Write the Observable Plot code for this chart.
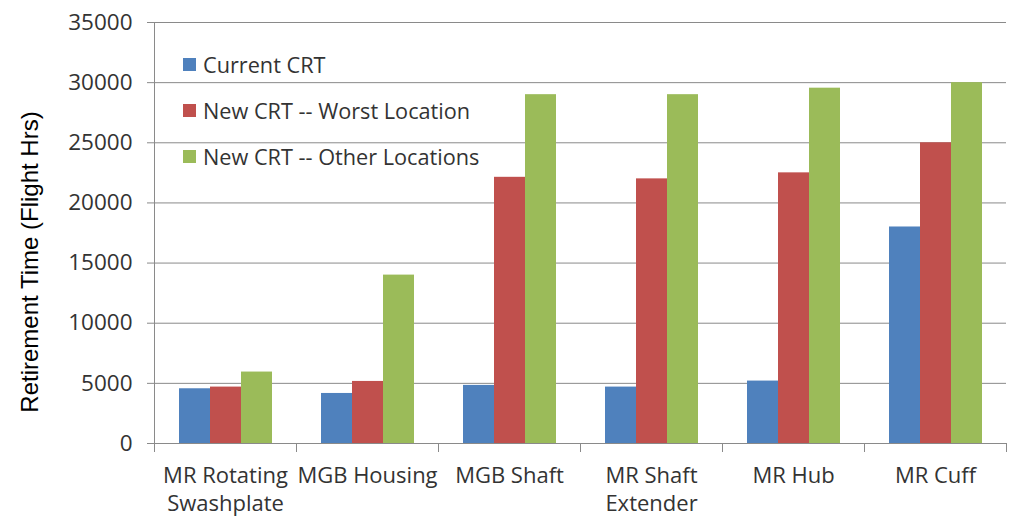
<!DOCTYPE html>
<html><head><meta charset="utf-8">
<script src="https://cdn.jsdelivr.net/npm/d3@7"></script>
<script src="https://cdn.jsdelivr.net/npm/@observablehq/plot@0.6"></script>
<style>
body{margin:0;background:#fff}
#wrap{position:relative;width:1011px;height:516px;overflow:hidden}
#legend{position:absolute;left:183px;top:41px;font-family:"Open Sans";font-size:21.7px;color:#333}
.item{display:flex;align-items:center;height:46px;white-space:nowrap}
.sw{width:13px;height:13px;margin-right:7px}
#ytitle{position:absolute;left:30px;top:262px;transform:translate(-50%,-50%) rotate(-90deg);white-space:nowrap;font-family:"Liberation Sans";font-size:24px;color:#000}
</style></head><body><div id="wrap"></div>
<script>
const categories = ["MR Rotating\nSwashplate","MGB Housing","MGB Shaft","MR Shaft\nExtender","MR Hub","MR Cuff"];
const seriesNames = ["Current CRT","New CRT -- Worst Location","New CRT -- Other Locations"];
const currentCRT = [4550,4160,4830,4690,5190,18000];
const newWorst = [4690,5160,22130,22000,22500,25000];
const newOther = [5940,14000,29000,29000,29540,30000];
const seriesColors = ["#4F81BD","#C0504D","#9BBB59"];
const yTicks = [0,5000,10000,15000,20000,25000,30000,35000];
const yTitle = "Retirement Time (Flight Hrs)";

const seriesValues = [currentCRT, newWorst, newOther];
const rows = [];
categories.forEach((c, i) => seriesNames.forEach((s, j) => rows.push({category: c, series: s, value: seriesValues[j][i]})));

const gray = "#8a8a8a";
const chart = Plot.plot({
  width: 1011, height: 516,
  marginLeft: 153, marginRight: 5, marginTop: 22, marginBottom: 73,
  style: {fontFamily: "Open Sans", fontSize: "21px", color: "#333", background: "#fff"},
  fx: {domain: categories, padding: 0, label: null},
  x: {domain: seriesNames, paddingInner: 0, paddingOuter: 0.75, axis: null},
  y: {domain: [0, 35000], label: null},
  color: {domain: seriesNames, range: seriesColors},
  marks: [
    Plot.gridY(yTicks, {stroke: gray, strokeOpacity: 1}),
    Plot.axisY(yTicks, {tickSize: 7, tickPadding: 15, stroke: gray, strokeOpacity: 1, fill: "#333", fontSize: 22.5, label: null, tickFormat: "d"}),
    Plot.frame({anchor: "left", stroke: gray, facetAnchor: "left"}),
    Plot.barY(rows, {fx: "category", x: "series", y: "value", fill: "series"}),
    Plot.ruleY([0], {stroke: gray}),
    Plot.frame({anchor: "left", stroke: gray, insetTop: 421, insetBottom: -8}),
    Plot.frame({anchor: "right", stroke: gray, insetTop: 421, insetBottom: -8, facetAnchor: "right"}),
    Plot.axisFx({anchor: "bottom", tickSize: 0, tickPadding: 20, fontSize: 22, lineHeight: 1.25, fill: "#333", label: null})
  ]
});
const wrap = document.getElementById("wrap");
wrap.appendChild(chart);
const legend = document.createElement("div");
legend.id = "legend";
seriesNames.forEach((s, i) => {
  const it = document.createElement("div"); it.className = "item";
  const sw = document.createElement("span"); sw.className = "sw"; sw.style.background = seriesColors[i];
  const t = document.createElement("span"); t.textContent = s;
  it.appendChild(sw); it.appendChild(t); legend.appendChild(it);
});
wrap.appendChild(legend);
const yt = document.createElement("div"); yt.id = "ytitle"; yt.textContent = yTitle; wrap.appendChild(yt);
</script></body></html>
